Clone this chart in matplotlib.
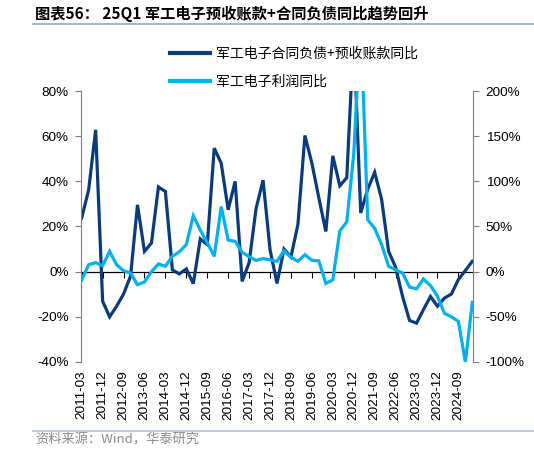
import numpy as np
import matplotlib
matplotlib.use("Agg")
import matplotlib.pyplot as plt
from matplotlib.lines import Line2D

plt.rcParams['font.family'] = ['Liberation Sans', 'Noto Sans CJK SC', 'DejaVu Sans']
cjk = ['Noto Sans CJK SC', 'DejaVu Sans']

# quarterly data, 2011-03 .. 2025-03
quarters = [f"{y}-{m:02d}" for y in range(2011, 2026) for m in (3, 6, 9, 12)][:57]

# 军工电子合同负债+预收账款同比 (left axis, %)
contract_yoy = [23.8, 36.3, 62.8, -13.1, -20.0, -15.3, -9.9, -2.0, 29.6, 9.0,
                12.7, 37.5, 35.5, 0.8, -1.0, 1.2, -5.3, 14.5, 12.0, 54.7,
                48.0, 27.4, 40.0, -4.3, 4.0, 28.0, 40.5, 9.7, -5.2, 10.0,
                6.5, 21.0, 60.3, 48.0, 32.6, 17.8, 51.3, 38.0, 41.6, 105.0,
                26.0, 36.5, 44.0, 32.0, 9.0, 2.0, -11.0, -21.6, -22.8, -16.8,
                -11.0, -15.3, -11.7, -9.9, -3.5, 0.5, 4.6]

# 军工电子利润同比 (right axis, %)
profit_yoy = [-9.0, 7.7, 10.0, 6.6, 22.5, 7.7, 1.0, -1.5, -14.4, -11.4,
              0.0, 8.5, 6.0, 17.0, 22.0, 30.0, 62.0, 46.0, 32.0, 17.0,
              72.0, 35.0, 33.5, 21.5, 16.5, 12.5, 14.5, 13.0, 11.5, 23.0,
              16.0, 11.5, 18.8, 12.5, 12.0, -13.0, -9.0, 45.0, 55.0, 130.0,
              280.0, 57.5, 48.0, 30.0, 6.0, 2.0, -1.5, -17.0, -19.0, -8.0,
              -15.5, -27.0, -46.0, -50.0, -55.0, -100.0, -34.0]

left_ticks = [-40, -20, 0, 20, 40, 60, 80]
right_ticks = [-100, -50, 0, 50, 100, 150, 200]

dark = '#0a3b7c'
light = '#00b0f0'
x = np.arange(len(quarters))

fig = plt.figure(figsize=(5.34, 4.55), dpi=100)
ax = fig.add_axes([0.1517, 0.2044, 0.7341, 0.5956])
ax2 = ax.twinx()

ax.plot(x, contract_yoy, color=dark, lw=2.3, solid_joinstyle='miter')
ax2.plot(x, profit_yoy, color=light, lw=2.3, solid_joinstyle='miter')

ax.set_xlim(-0.1, len(quarters) - 0.9)
ax.set_ylim(-40, 80)
ax2.set_ylim(-100, 200)

ax.set_yticks(left_ticks, [f"{v}%" for v in left_ticks])
ax2.set_yticks(right_ticks, [f"{v}%" for v in right_ticks])
ax.set_xticks(x[::3], quarters[::3][:len(x[::3])], rotation=90)

for a in (ax, ax2):
    for s in ('top', 'bottom'):
        a.spines[s].set_visible(False)
ax.spines['right'].set_visible(False)
ax2.spines['left'].set_visible(False)
ax.spines['left'].set_color('#7f7f7f')
ax2.spines['right'].set_color('#7f7f7f')

ax.tick_params(axis='y', length=4, color='#7f7f7f', pad=5, labelsize=9.7)
ax2.tick_params(axis='y', length=4, color='#7f7f7f', pad=5, labelsize=9.7)
ax.tick_params(axis='x', length=0, pad=6, labelsize=9.7)

# zero line with small ticks
zero = ax.secondary_xaxis(40 / 120)
zero.set_xticks(x[::3])
zero.tick_params(axis='x', length=4, direction='out', color='black', width=0.8, labelbottom=False)
zero.spines['bottom'].set_color('black')
zero.spines['bottom'].set_linewidth(0.9)

handles = [Line2D([], [], color=dark, lw=3), Line2D([], [], color=light, lw=3)]
fig.legend(handles, ['军工电子合同负债+预收账款同比', '军工电子利润同比'],
           loc='upper left', bbox_to_anchor=(0.295, 0.925), frameon=False,
           handlelength=2.9, handletextpad=0.4, labelspacing=1.05,
           prop={'family': cjk, 'size': 10})

fig.text(0.066, 0.969, '图表56： 25Q1 军工电子预收账款+合同负债同比趋势回升',
         family=cjk, fontsize=11, fontweight='bold', va='center', ha='left')
fig.add_artist(Line2D([0.062, 1.0], [0.947, 0.947], color='#8fa9c9', lw=1.2))
fig.add_artist(Line2D([0.062, 1.0], [0.053, 0.053], color='#b4c3d8', lw=1.2))
fig.text(0.066, 0.033, '资料来源：Wind，华泰研究', family=cjk, fontsize=9.5,
         color='#8c8c8c', va='center', ha='left')

fig.savefig('out.png', dpi=100, facecolor='white')
